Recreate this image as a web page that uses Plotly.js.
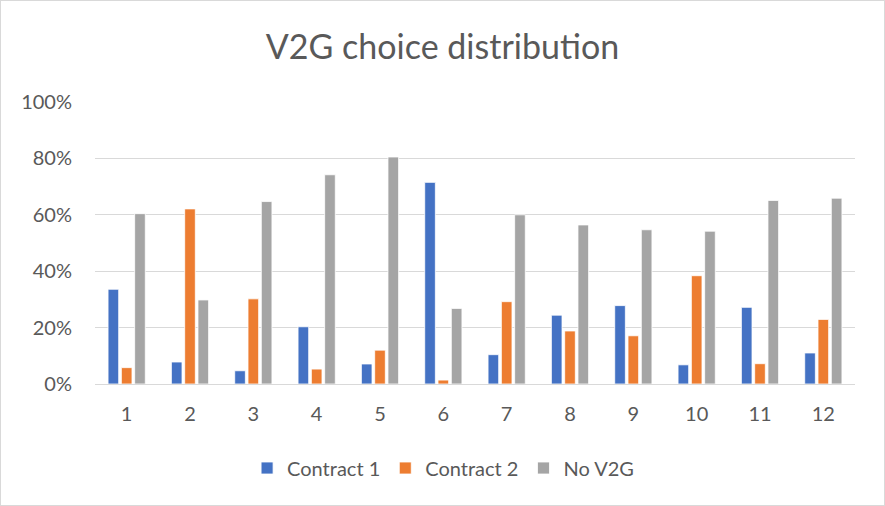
<!DOCTYPE html>
<html>
<head>
<meta charset="utf-8">
<script src="https://cdn.plot.ly/plotly-3.0.1.min.js"></script>
<style>
  html, body { margin: 0; padding: 0; background: #fff; }
  #wrap { position: relative; width: 885px; height: 506px; }
  #chart { width: 885px; height: 506px; }
  #frame { position: absolute; left: 0; top: 0; width: 883px; height: 504px; border: 1px solid #d9d9d9; pointer-events: none; }
</style>
</head>
<body>
<div id="wrap"><div id="chart"></div><div id="frame"></div></div>
<script>
const categories = ['1','2','3','4','5','6','7','8','9','10','11','12'];
const contract1 = [0.336, 0.078, 0.047, 0.203, 0.071, 0.715, 0.104, 0.244, 0.278, 0.068, 0.272, 0.110];
const contract2 = [0.058, 0.621, 0.302, 0.053, 0.120, 0.014, 0.292, 0.188, 0.171, 0.384, 0.072, 0.229];
const noV2G     = [0.604, 0.298, 0.647, 0.742, 0.805, 0.268, 0.600, 0.564, 0.547, 0.542, 0.651, 0.659];
const seriesNames = ['Contract 1', 'Contract 2', 'No V2G'];
const colors = ['#4472C4', '#ED7D31', '#A5A5A5'];

const font = "Lato, 'Liberation Sans', sans-serif";
const data = [contract1, contract2, noV2G].map((vals, i) => ({
  type: 'bar',
  name: seriesNames[i],
  x: categories,
  y: vals,
  marker: { color: colors[i], line: { color: '#ffffff', width: 0.8 } },
  hoverinfo: 'x+y+name'
}));

const layout = {
  width: 885, height: 506,
  margin: { l: 95, r: 30, t: 102, b: 122 },
  paper_bgcolor: '#ffffff', plot_bgcolor: '#ffffff',
  font: { family: font, color: '#595959', size: 20 },
  title: { text: 'V2G choice distribution', font: { family: font, size: 34, color: '#595959' },
           x: 0.5, xanchor: 'center', y: 1 - 47/506, yanchor: 'middle', yref: 'container' },
  barmode: 'group', bargap: 0.37, bargroupgap: 0.2,
  xaxis: { type: 'category', showgrid: false, showline: true, linecolor: '#d9d9d9', linewidth: 1,
           ticks: '', tickfont: { size: 20, color: '#595959' }, ticklabelstandoff: 12 },
  yaxis: { range: [0, 1], dtick: 0.2, tickformat: '.0%', showgrid: true, gridcolor: '#d9d9d9', gridwidth: 1,
           zeroline: false, showline: false, ticks: '', tickfont: { size: 20, color: '#595959' }, ticklabelstandoff: 22 },
  legend: { orientation: 'h', x: 0.458, xanchor: 'center', y: 1 - 468/506, yanchor: 'middle', yref: 'container',
            font: { size: 20, color: '#595959' }, traceorder: 'normal', itemwidth: 30 },
  showlegend: true
};

Plotly.newPlot('chart', data, layout, { displayModeBar: false, staticPlot: true });
</script>
</body>
</html>
